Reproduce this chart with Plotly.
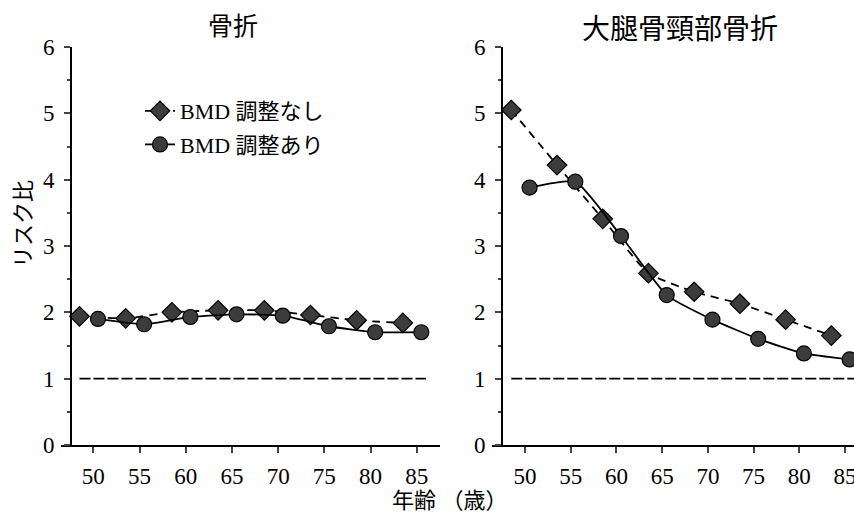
import plotly.graph_objects as go

W, H = 854, 517

# ---- data ----
age_no_adj = [48.5, 53.5, 58.5, 63.5, 68.5, 73.5, 78.5, 83.5]
age_adj = [50.5, 55.5, 60.5, 65.5, 70.5, 75.5, 80.5, 85.5]

fx_no_adj = [1.94, 1.91, 2.00, 2.03, 2.03, 1.96, 1.88, 1.84]
fx_adj = [1.90, 1.82, 1.93, 1.97, 1.95, 1.79, 1.70, 1.70]

hip_no_adj = [5.05, 4.22, 3.41, 2.59, 2.31, 2.13, 1.89, 1.65]
hip_adj = [3.88, 3.97, 3.15, 2.26, 1.89, 1.60, 1.38, 1.29]

ref_x = [48.5, 86.0]
ref_y = [1, 1]

x_ticks = [50, 55, 60, 65, 70, 75, 80, 85]
y_ticks = [0, 1, 2, 3, 4, 5, 6]

titles = ["骨折", "大腿骨頸部骨折"]
name_no_adj = "BMD 調整なし"
name_adj = "BMD 調整あり"
y_title = "リスク比"
x_title = "年齢 （歳）"

FONT = "Liberation Serif, Noto Sans CJK JP, serif"
MARK_FILL = "#3c3c3c"

fig = go.Figure()


def add_panel(xa, ya, no_adj, adj, show):
    fig.add_trace(go.Scatter(
        x=ref_x, y=ref_y, mode="lines", xaxis=xa, yaxis=ya, showlegend=False,
        line=dict(color="black", width=1.6, dash="11px,3px"), hoverinfo="skip"))
    fig.add_trace(go.Scatter(
        x=age_no_adj, y=no_adj, mode="lines+markers", xaxis=xa, yaxis=ya,
        name=name_no_adj, showlegend=show, legendgroup="a",
        line=dict(color="black", width=1.8, dash="8px,6px", shape="spline", smoothing=0.5),
        marker=dict(symbol="diamond", size=15, color=MARK_FILL,
                    line=dict(color="black", width=1.2))))
    fig.add_trace(go.Scatter(
        x=age_adj, y=adj, mode="lines+markers", xaxis=xa, yaxis=ya,
        name=name_adj, showlegend=show, legendgroup="b",
        line=dict(color="black", width=1.8, shape="spline", smoothing=0.5),
        marker=dict(symbol="circle", size=15, color=MARK_FILL,
                    line=dict(color="black", width=1.2))))


add_panel("x", "y", fx_no_adj, fx_adj, True)
add_panel("x2", "y2", hip_no_adj, hip_adj, False)

ydom = [(H - 445) / H, (H - 47) / H]

tfont = dict(family="Liberation Serif", size=23, color="black")

xcommon = dict(
    tickvals=x_ticks, ticks="outside", ticklen=6, tickwidth=1.5,
    showline=True, linecolor="black", linewidth=2, showgrid=False, zeroline=False,
    tickfont=tfont, ticklabeloverflow="allow", ticklabelstandoff=3, fixedrange=True)
ycommon = dict(
    range=[0, 6], domain=ydom, tickvals=y_ticks, ticks="outside", ticklen=6, tickwidth=1.5,
    minor=dict(dtick=0.5, ticks="outside", ticklen=3, tickwidth=1.5, showgrid=False),
    showline=True, linecolor="black", linewidth=2, showgrid=False, zeroline=False,
    tickfont=tfont, ticklabeloverflow="allow", ticklabelstandoff=5,
    anchor="free", fixedrange=True)

fig.update_layout(
    width=W, height=H,
    margin=dict(l=0, r=0, t=0, b=0, autoexpand=False),
    paper_bgcolor="white", plot_bgcolor="white",
    font=dict(family=FONT, color="black"),
    xaxis=dict(domain=[61 / W, 440 / W], range=[46.5, 87.52], anchor="y", **xcommon),
    yaxis=dict(position=71 / W, **ycommon),
    xaxis2=dict(domain=[492 / W, 1.0], range=[46.39, 85.98], anchor="y2", **xcommon),
    yaxis2=dict(position=502 / W, **ycommon),
    legend=dict(x=140 / W, y=(H - 90) / H, xref="paper", yref="paper",
                xanchor="left", yanchor="top", bgcolor="rgba(0,0,0,0)",
                font=dict(family=FONT, size=22, color="black"),
                traceorder="grouped", tracegroupgap=2),
    showlegend=True,
    annotations=[
        dict(text=titles[0], x=233 / W, y=1 - 27 / H, xref="paper", yref="paper",
             xanchor="center", yanchor="middle",
             showarrow=False, font=dict(family=FONT, size=25)),
        dict(text=titles[1], x=680 / W, y=1 - 29 / H, xref="paper", yref="paper",
             xanchor="center", yanchor="middle",
             showarrow=False, font=dict(family=FONT, size=28)),
        dict(text=y_title, x=23 / W, y=1 - 224 / H, xref="paper", yref="paper",
             xanchor="center", yanchor="middle",
             showarrow=False, textangle=-90, font=dict(family=FONT, size=22)),
        dict(text=x_title, x=450 / W, y=1 - 500 / H, xref="paper", yref="paper",
             xanchor="center", yanchor="middle",
             showarrow=False, font=dict(family=FONT, size=22)),
    ],
)

fig.write_html("out.html")
